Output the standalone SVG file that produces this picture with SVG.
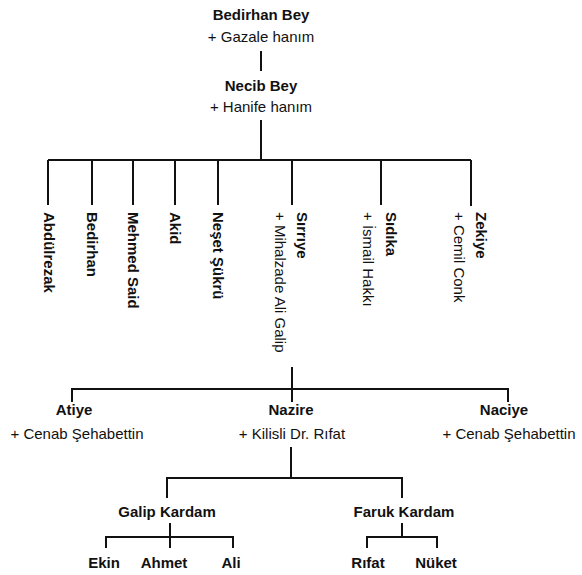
<svg xmlns="http://www.w3.org/2000/svg" width="582" height="575" viewBox="0 0 582 575">
<style>
text{font-family:"Liberation Sans",Arial,sans-serif;font-size:15px;fill:#111}
.b{font-weight:bold}
.c{text-anchor:middle}
#connectors path{fill:none;stroke:#111;stroke-width:2}
</style>
<rect width="582" height="575" fill="#fff"/>
<g id="connectors">
<path d="M261 51V71"/>
<path d="M261 120V160"/>
<path d="M48 160H471"/>
<path d="M48 160V205M92 160V205M133 160V205M175 160V205M218 160V205M292 160V205M381 160V205M471 160V206"/>
<path d="M292 367V402"/>
<path d="M72 402V389H508V402"/>
<path d="M291 447V478"/>
<path d="M167 498V478H402V498"/>
<path d="M170 523V537"/>
<path d="M106 548V537H233V548M170 537V548"/>
<path d="M402 523V537"/>
<path d="M367 548V537H437V548"/>
</g>
<g id="bedirhan-bey"><text class="b c" x="261" y="20">Bedirhan Bey</text><text class="c" x="261" y="42">+ Gazale hanım</text></g>
<g id="necib-bey"><text class="b c" x="261" y="91">Necib Bey</text><text class="c" x="261" y="112">+ Hanife hanım</text></g>
<g id="abdulrezak" transform="translate(49,212) rotate(90)"><text class="b" y="5">Abdülrezak</text></g>
<g id="bedirhan" transform="translate(92,212) rotate(90)"><text class="b" y="5">Bedirhan</text></g>
<g id="mehmed-said" transform="translate(133,212) rotate(90)"><text class="b" y="5">Mehmed Said</text></g>
<g id="akid" transform="translate(175,212) rotate(90)"><text class="b" y="5">Akid</text></g>
<g id="neset-sukru" transform="translate(218,212) rotate(90)"><text class="b" y="5">Neşet Şükrü</text></g>
<g id="sirriye" transform="translate(302,212) rotate(90)"><text class="b" y="5">Sırrıye</text><text y="27">+ Mihalzade Ali Galip</text></g>
<g id="sidika" transform="translate(391,212) rotate(90)"><text class="b" y="5">Sıdıka</text><text y="28">+ İsmail Hakkı</text></g>
<g id="zekiye" transform="translate(481,212) rotate(90)"><text class="b" y="5">Zekiye</text><text y="27">+ Cemil Conk</text></g>
<g id="atiye"><text class="b c" x="74" y="415">Atiye</text><text class="c" x="77" y="439">+ Cenab Şehabettin</text></g>
<g id="nazire"><text class="b c" x="291" y="415">Nazire</text><text class="c" x="292" y="439">+ Kilisli Dr. Rıfat</text></g>
<g id="naciye"><text class="b c" x="504" y="415">Naciye</text><text class="c" x="509" y="439">+ Cenab Şehabettin</text></g>
<g id="galip-kardam"><text class="b c" x="167" y="517">Galip Kardam</text></g>
<g id="faruk-kardam"><text class="b c" x="404" y="517">Faruk Kardam</text></g>
<g id="ekin"><text class="b c" x="104" y="568">Ekin</text></g>
<g id="ahmet"><text class="b c" x="164" y="568">Ahmet</text></g>
<g id="ali"><text class="b c" x="231" y="568">Ali</text></g>
<g id="rifat"><text class="b c" x="368" y="568">Rıfat</text></g>
<g id="nuket"><text class="b c" x="436" y="568">Nüket</text></g>
</svg>
